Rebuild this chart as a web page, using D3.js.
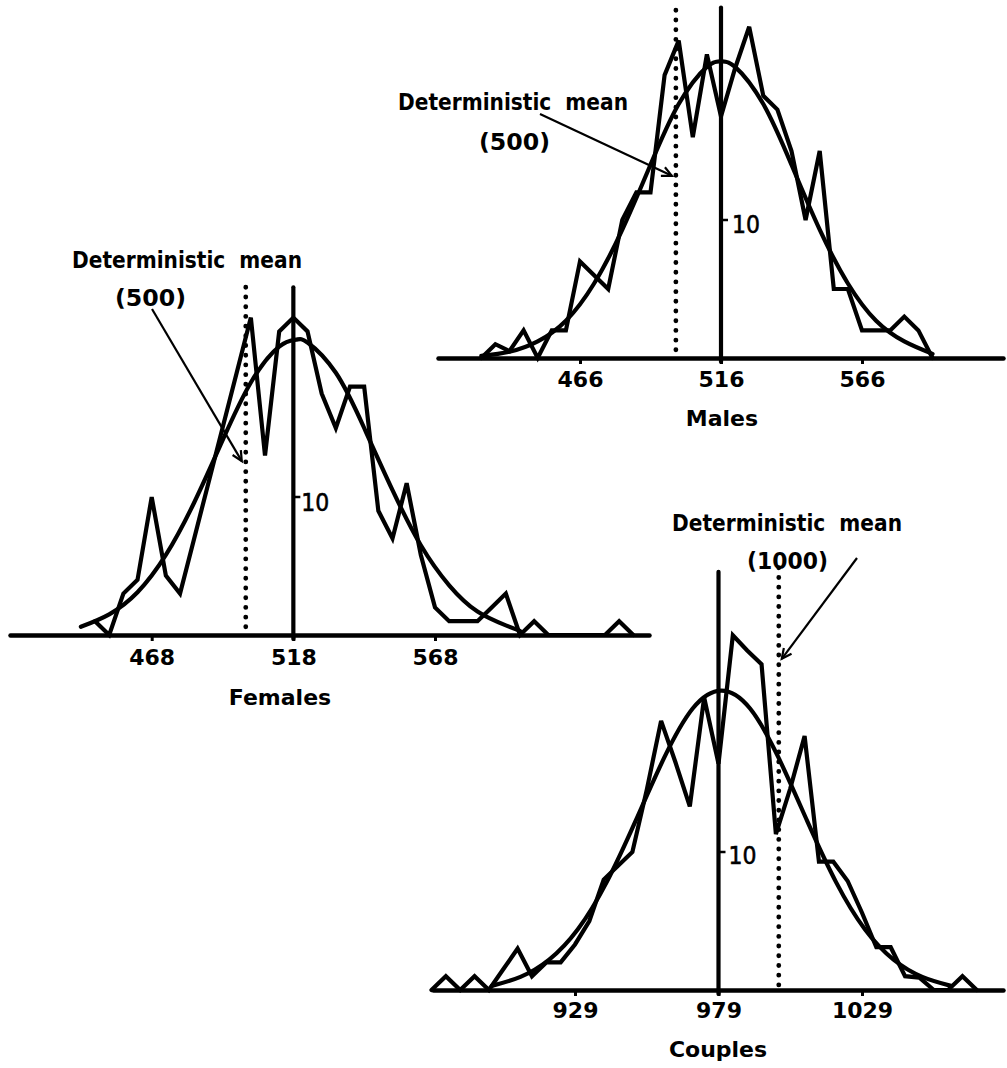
<!DOCTYPE html>
<html><head><meta charset="utf-8">
<script src="https://cdn.jsdelivr.net/npm/d3@7"></script>
<style>body{margin:0;background:#fff} svg{display:block}</style>
</head><body>
<svg id="chart" width="1007" height="1068"></svg>
<script>
// ---------- DATA ----------
const malesBins   = [431,436,441,446,451,456,461,466,471,476,481,486,491,496,501,506,511,516,521,526,531,536,541,546,551,556,561,566,571,576,581,586,591];
const malesCounts = [0,1,0.5,2,0,2,2,7,6,5,10,12,12,20.5,23,16,22,17.5,21,24,19,18,15,10,15,5,5,2,2,2,3,2,0];
const malesFitX   = [431,441,451,461,471,481,491,501,511,516,521,531,541,551,561,571,581,591];
const malesFitY   = [0.15,0.45,1.2,2.7,5.4,9.3,14.0,18.4,21.1,21.5,21.1,18.4,14.0,9.3,5.4,2.7,1.2,0.3];
const malesTicks  = [466,516,566];

const femalesBins   = [448,453,458,463,468,473,478,483,488,493,498,503,508,513,518,523,528,533,538,543,548,553,558,563,568,573,578,583,588,593,598,603,608,613,618,623,628,633,638];
const femalesCounts = [1,0,3,4,10,4.3,3,7,11,15,19,23,13,22,23,22,17.5,15,18,18,9,7,11,5.8,2,1,1,1,2,3,0,1,0,0,0,0,0,1,0];
const femalesFitX   = [443,453,463,473,483,493,503,513,519,523,533,543,553,563,573,583,593,598];
const femalesFitY   = [0.6,1.5,3.1,5.8,9.6,14.1,18.3,20.9,21.4,21.2,19.0,15.0,10.5,6.5,3.6,1.7,0.7,0.3];
const femalesTicks  = [468,518,568];

const couplesBins   = [879,884,889,894,899,904,909,914,919,924,929,934,939,944,949,954,959,964,969,974,979,984,989,994,999,1004,1009,1014,1019,1024,1029,1034,1039,1044,1049,1054,1059,1064,1069];
const couplesCounts = [0,1,0,1,0,1.5,3,1,2,2,3.3,5,8,9,10,14.5,19.5,16.5,13.3,21.2,16.4,25.7,24.6,23.6,11.3,14.6,18.4,9.3,9.3,7.9,5.6,3.1,3.1,1,0.9,0,0,1,0];
const couplesFitX   = [900,910,920,930,940,950,960,970,980,990,1000,1010,1020,1030,1040,1050,1060];
const couplesFitY   = [0.3,0.95,2.2,4.4,7.8,12.2,16.8,20.4,21.7,20.4,16.8,12.2,7.8,4.4,2.2,0.95,0.3];
const couplesTicks  = [929,979,1029];

const panelNames        = ["Males","Females","Couples"];
const observedMeans     = [516, 518, 979];
const deterministicMean = [500, 500, 1000];
const deterministicLine = [500, 501.2, 1000];   // where the dotted line sits in the figure
const countTick         = 10;

// ---------- LAYOUT ----------
const svg = d3.select('#chart');
const FONT = "'DejaVu Sans', Verdana, sans-serif";
const PX_PER_10 = 138;

const panels = [
  { bins: malesBins, counts: malesCounts, fx: malesFitX, fy: malesFitY, ticks: malesTicks,
    tickPx: [580, 862], base: 358, extentPx: [438, 1003], meanTop: 25.4, detTop: 25.2,
    t1: [398, 110], t2: [479, 150, 71], arrowFrom: [540, 114], tipCount: 13.2, tipDx: -4,
    caption: [722, 426], tickPad: 7, tenDx: 11, tenDy: 13 },
  { bins: femalesBins, counts: femalesCounts, fx: femalesFitX, fy: femalesFitY, ticks: femalesTicks,
    tickPx: [151.7, 435], base: 635, extentPx: [10, 649], meanTop: 25.2, detTop: 25.2,
    t1: [72, 268], t2: [115, 306, 71], arrowFrom: [152, 309], tipCount: 12.6, tipDx: -4,
    caption: [280, 705], tickPad: 8, tenDx: 8, tenDy: 14 },
  { bins: couplesBins, counts: couplesCounts, fx: couplesFitX, fy: couplesFitY, ticks: couplesTicks,
    tickPx: [575, 862], base: 990, extentPx: [433, 1003], meanTop: 30.3, detTop: 30.6,
    t1: [672, 531], t2: [747, 569, 81], arrowFrom: [857, 558], tipCount: 24, tipDx: 3,
    caption: [718, 1057], tickPad: 6, tenDx: 10, tenDy: 12 }
];

function arrowHead(g, x1, y1, x2, y2) {
  const a = Math.atan2(y2 - y1, x2 - x1), L = 11, th = 0.45;
  const p1 = [x2 - L * Math.cos(a - th), y2 - L * Math.sin(a - th)];
  const p2 = [x2 - L * Math.cos(a + th), y2 - L * Math.sin(a + th)];
  g.append('path').attr('d', `M${p1}L${x2},${y2}L${p2}`)
    .attr('fill', 'none').attr('stroke', '#000').attr('stroke-width', 2.2)
    .attr('stroke-linejoin', 'miter');
}

panels.forEach((p, i) => {
  const x = d3.scaleLinear().domain([p.ticks[0], p.ticks[2]]).range(p.tickPx);
  const y = d3.scaleLinear().domain([0, 10]).range([p.base, p.base - PX_PER_10]);
  const g = svg.append('g');

  // x axis (axis scale limited to the drawn baseline)
  const ext = p.extentPx.map(v => x.invert(v));
  const xa = x.copy().domain(ext).range(p.extentPx);
  const ax = g.append('g').attr('transform', `translate(0,${p.base})`)
    .call(d3.axisBottom(xa).tickValues(p.ticks).tickFormat(d3.format('d'))
      .tickSize(6).tickSizeOuter(0).tickPadding(p.tickPad));
  ax.select('.domain').attr('stroke', '#000').attr('stroke-width', 4.5).attr('stroke-linecap', 'round');
  ax.selectAll('.tick line').attr('stroke', '#000').attr('stroke-width', 3);
  ax.selectAll('.tick text').attr('fill', '#000').attr('font-family', FONT)
    .attr('font-size', 22).attr('font-weight', 'bold');

  // caption
  g.append('text').attr('x', p.caption[0]).attr('y', p.caption[1]).attr('text-anchor', 'middle')
    .attr('font-family', FONT).attr('font-size', 22).attr('font-weight', 'bold').text(panelNames[i]);

  // dotted deterministic-mean line
  const dx = x(deterministicLine[i]);
  g.append('line').attr('x1', dx).attr('x2', dx).attr('y1', y(p.detTop)).attr('y2', y(0) - 2)
    .attr('stroke', '#000').attr('stroke-width', 4.8).attr('stroke-linecap', 'round')
    .attr('stroke-dasharray', '0.1 9.6');

  // solid observed-mean line
  const mx = x(observedMeans[i]);
  g.append('line').attr('x1', mx).attr('x2', mx).attr('y1', y(p.meanTop)).attr('y2', y(0) + 4)
    .attr('stroke', '#000').attr('stroke-width', 4.2).attr('stroke-linecap', 'round');

  // count tick "10"
  g.append('line').attr('x1', mx + 1).attr('x2', mx + 7).attr('y1', y(countTick)).attr('y2', y(countTick))
    .attr('stroke', '#000').attr('stroke-width', 2.5);
  g.append('text').attr('x', mx + p.tenDx).attr('y', y(countTick) + p.tenDy)
    .attr('font-family', FONT).attr('font-size', 25).attr('textLength', 28).attr('lengthAdjust', 'spacingAndGlyphs')
    .attr('stroke', '#000').attr('stroke-width', 0.6)
    .text(String(countTick));

  // fitted normal curve
  const fit = p.fx.map((v, k) => [v, p.fy[k]]);
  g.append('path').datum(fit)
    .attr('d', d3.line().x(d => x(d[0])).y(d => y(d[1])).curve(d3.curveNatural))
    .attr('fill', 'none').attr('stroke', '#000').attr('stroke-width', 4.2).attr('stroke-linecap', 'round');

  // observed frequency polygon
  const poly = p.bins.map((v, k) => [v, p.counts[k]]);
  g.append('path').datum(poly)
    .attr('d', d3.line().x(d => x(d[0])).y(d => y(d[1])))
    .attr('fill', 'none').attr('stroke', '#000').attr('stroke-width', 4.2)
    .attr('stroke-linejoin', 'miter').attr('stroke-miterlimit', 3).attr('stroke-linecap', 'round');

  // annotation
  g.append('text').attr('x', p.t1[0]).attr('y', p.t1[1])
    .attr('font-family', FONT).attr('font-size', 23).attr('font-weight', 'bold')
    .attr('textLength', 230).attr('lengthAdjust', 'spacingAndGlyphs')
    .attr('xml:space', 'preserve').text('Deterministic  mean');
  g.append('text').attr('x', p.t2[0]).attr('y', p.t2[1])
    .attr('font-family', FONT).attr('font-size', 23).attr('font-weight', 'bold')
    .attr('textLength', p.t2[2]).attr('lengthAdjust', 'spacingAndGlyphs')
    .text('(' + deterministicMean[i] + ')');
  const tipX = dx + p.tipDx, tipY = y(p.tipCount);
  g.append('line').attr('x1', p.arrowFrom[0]).attr('y1', p.arrowFrom[1]).attr('x2', tipX).attr('y2', tipY)
    .attr('stroke', '#000').attr('stroke-width', 2.2);
  arrowHead(g, p.arrowFrom[0], p.arrowFrom[1], tipX, tipY);
});
</script>
</body></html>
